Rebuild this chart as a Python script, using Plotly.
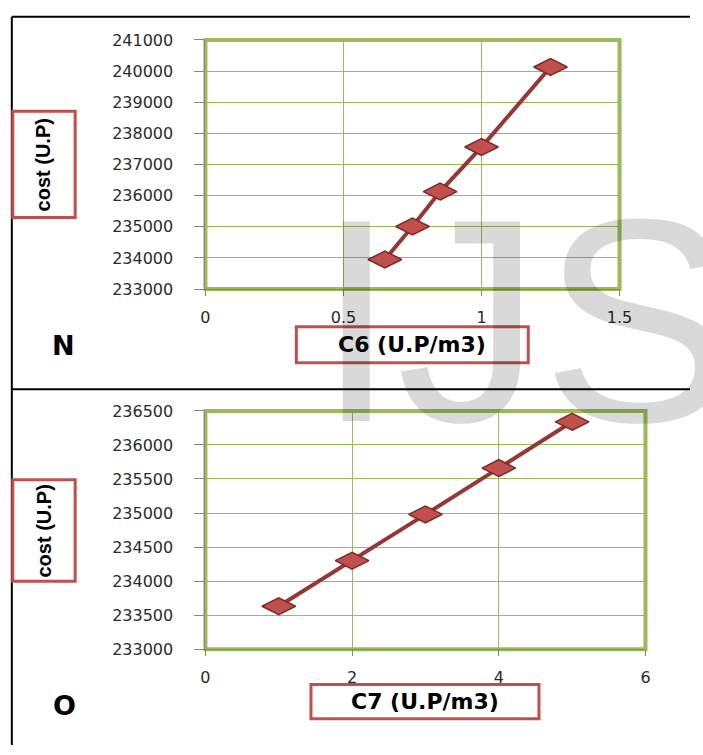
import plotly.graph_objects as go

W, H = 703, 755

# ---------------- data ----------------
c6_values = [0.65, 0.75, 0.85, 1.0, 1.25]
cost_n = [233950, 235010, 236130, 237560, 240130]

c7_values = [1, 2, 3, 4, 5]
cost_o = [233630, 234300, 234980, 235660, 236340]

panel_labels = ["N", "O"]
x_titles = ["C6 (U.P/m3)", "C7 (U.P/m3)"]
y_title = "cost (U.P)"
watermark = "IJS"

# ---------------- styles ----------------
GREEN = "#9BBB59"
RED = "#C0504D"
LINE_RED = "#953735"
EDGE_RED = "#7F2A28"
GRAY = "#868686"
TICK_FONT = dict(family="DejaVu Sans", size=16, color="#2b2b2b")


def px_x(p):
    return p / W


def px_y(p):
    return 1 - p / H


fig = go.Figure()

marker = dict(symbol="diamond-wide", size=24, color=RED,
              line=dict(color=EDGE_RED, width=1.5))

fig.add_trace(go.Scatter(x=c6_values, y=cost_n, mode="lines+markers",
                         line=dict(color=LINE_RED, width=4), marker=marker,
                         xaxis="x", yaxis="y", showlegend=False))
fig.add_trace(go.Scatter(x=c7_values, y=cost_o, mode="lines+markers",
                         line=dict(color=LINE_RED, width=4), marker=marker,
                         xaxis="x2", yaxis="y2", showlegend=False))

common_x = dict(showgrid=True, gridcolor=GREEN, gridwidth=1, zeroline=False,
                showline=True, linecolor=GRAY, linewidth=1, ticks="outside",
                ticklen=6, tickcolor=GRAY, tickfont=TICK_FONT,
                ticklabelstandoff=8)
common_y = dict(showgrid=True, gridcolor=GREEN, gridwidth=1, zeroline=False,
                showline=True, linecolor=GRAY, linewidth=1, ticks="outside",
                ticklen=10, tickcolor=GRAY, tickfont=TICK_FONT,
                tickformat="d", ticklabelstandoff=18)

top = dict(l=205.7, r=630.7, t=31.7, b=287.3)
bot = dict(l=205.7, r=657.3, t=412.3, b=656.7)

fig.update_layout(
    width=W, height=H,
    margin=dict(l=0, r=0, t=0, b=0),
    paper_bgcolor="white", plot_bgcolor="white",
    xaxis=dict(common_x, domain=[px_x(top["l"]), px_x(top["r"])],
               range=[0, 1.5], dtick=0.5, anchor="y"),
    yaxis=dict(common_y, domain=[px_y(top["b"]), px_y(top["t"])],
               range=[233000, 241000], dtick=1000, anchor="x"),
    xaxis2=dict(common_x, domain=[px_x(bot["l"]), px_x(bot["r"])],
                range=[0, 6], dtick=2, anchor="y2"),
    yaxis2=dict(common_y, domain=[px_y(bot["b"]), px_y(bot["t"])],
                range=[233000, 236500], dtick=500, anchor="x2"),
)

shapes = []
# green plot-area frames
for xr, yr in (("x", "y"), ("x2", "y2")):
    shapes.append(dict(type="rect", xref=f"{xr} domain", yref=f"{yr} domain",
                       x0=0, x1=1, y0=0, y1=1, layer="below",
                       line=dict(color=GREEN, width=4)))

# black frame lines
blk = dict(color="black", width=2)
shapes.append(dict(type="line", xref="paper", yref="paper",
                   x0=px_x(7), x1=1, y0=px_y(8), y1=px_y(8), line=blk))
shapes.append(dict(type="line", xref="paper", yref="paper",
                   x0=px_x(7), x1=px_x(7), y0=px_y(8), y1=0, line=blk))
shapes.append(dict(type="line", xref="paper", yref="paper",
                   x0=px_x(7), x1=1, y0=px_y(390), y1=px_y(390), line=blk))

# red label boxes
boxes = [(8, 72, 105, 214), (8, 72, 483, 587),
         (299, 537, 326, 363), (314, 548, 693, 728)]
for x0, x1, y0, y1 in boxes:
    shapes.append(dict(type="rect", xref="paper", yref="paper",
                       x0=px_x(x0), x1=px_x(x1), y0=px_y(y1), y1=px_y(y0),
                       fillcolor="white", layer="above",
                       line=dict(color=RED, width=3)))

fig.update_layout(shapes=shapes)

ann = []
# y titles
for cy in (159.5, 535):
    ann.append(dict(text=y_title, x=px_x(40), y=px_y(cy), xref="paper",
                    yref="paper", showarrow=False, textangle=-90,
                    xanchor="center", yanchor="middle",
                    font=dict(family="Liberation Sans", size=20,
                              color="black", weight="bold")))
# x titles
for t, cx, cy in ((x_titles[0], 418, 344.5), (x_titles[1], 431, 710.5)):
    ann.append(dict(text=t, x=px_x(cx), y=px_y(cy), xref="paper",
                    yref="paper", showarrow=False, xanchor="center",
                    yanchor="middle",
                    font=dict(family="DejaVu Sans", size=22, color="black",
                              weight="bold")))
# panel letters
for t, cx, cy in ((panel_labels[0], 60, 345), (panel_labels[1], 61, 714)):
    ann.append(dict(text=t, x=px_x(cx), y=px_y(cy), xref="paper",
                    yref="paper", showarrow=False, xanchor="center",
                    yanchor="middle",
                    font=dict(family="DejaVu Sans", size=27, color="black",
                              weight="bold")))
# watermark
ann.append(dict(text=watermark, x=px_x(317), y=px_y(319), xref="paper",
                yref="paper", showarrow=False, xanchor="left",
                yanchor="middle",
                font=dict(family="Liberation Sans", size=290,
                          color="rgba(0,0,0,0.15)")))
fig.update_layout(annotations=ann)

fig.write_html("out.html")
